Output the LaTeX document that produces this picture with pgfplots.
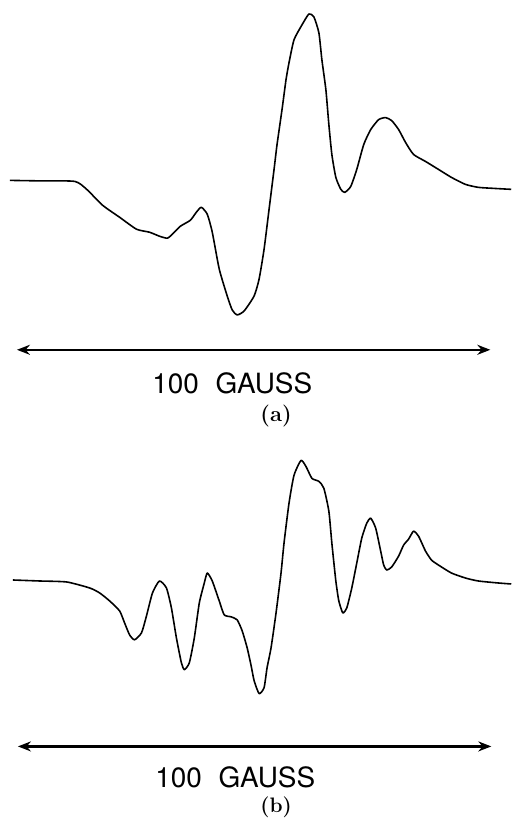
\documentclass[border=0pt]{standalone}
\usepackage{pgfplots}
\pgfplotsset{compat=1.18}
\usepackage{fontspec}
\newfontfamily\heros{TeX Gyre Heros}
\usetikzlibrary{arrows.meta}
\begin{document}
\begin{tikzpicture}
\begin{axis}[scale only axis, width=513pt, height=821pt,
  xmin=0, xmax=513, ymin=0, ymax=821, y dir=reverse,
  axis line style={draw=none}, xtick=\empty, ytick=\empty, clip=false]
% spectrum (a)
\addplot[black, line width=1.6pt, smooth, tension=0.35, line join=round] coordinates {
(10,181) (40,181.5) (75,182) (87,190) (103,206) (120,218) (137,230) (150,233)
(160,237) (168,239) (174,234) (181,227) (191,221) (197,213) (202,208) (208,215)
(213,233) (220,270) (228,297) (233,311) (238,316) (245,312) (255,297) (260,280)
(265,250) (270,210) (275,170) (278,145) (283,110) (287,80) (290,63) (295,40)
(303,25) (310,14) (315,17) (320,33) (323,60) (327,90) (330,125) (333,155)
(337,178) (342,190) (346,193) (352,187) (358,170) (365,145) (372,130) (380,120)
(387,118) (393,121) (400,130) (407,143) (415,155) (427,162) (440,170) (453,178)
(467,185) (480,188) (495,189) (513,190)
};
% spectrum (b)
\addplot[black, line width=1.6pt, smooth, tension=0.35, line join=round] coordinates {
(13,582) (40,583) (67,584) (90,590) (100,595) (110,603) (120,613) (125,625)
(130,637) (135,642) (142,635) (147,618) (153,595) (160,583) (167,590) (172,610)
(177,640) (182,665) (185,672) (190,665) (195,640) (200,605) (205,585) (208,575)
(213,583) (220,603) (225,617) (232,619) (238,622) (243,633) (248,650) (252,668)
(255,683) (260,696) (265,690) (268,670) (272,650) (277,615) (282,575) (285,545)
(290,505) (295,477) (302,462) (307,468) (313,480) (320,483) (325,490) (330,513)
(333,545) (337,583) (340,603) (344,615) (348,610) (353,590) (358,565) (363,540)
(368,525) (372,520) (377,530) (382,553) (385,567) (388,572) (393,569) (400,558)
(405,547) (410,541) (415,533) (420,538) (427,553) (433,562) (440,567) (453,575)
(467,580) (480,583) (500,585) (513,586)
};
\draw[line width=2.2pt, {Stealth[length=13pt,width=10pt]}-{Stealth[length=13pt,width=10pt]}]
  (axis cs:17,351) -- (axis cs:492,351);
\draw[line width=2.2pt, {Stealth[length=13pt,width=10pt]}-{Stealth[length=13pt,width=10pt]}]
  (axis cs:18,749) -- (axis cs:493,749);
\node[anchor=base, font=\heros\fontsize{28}{31}\selectfont] at (axis cs:233,395) {100\hspace{0.6em}GAUSS};
\node[anchor=base, font=\heros\fontsize{28}{31}\selectfont] at (axis cs:236,790) {100\hspace{0.6em}GAUSS};
\node[font=\bfseries\fontsize{22}{25}\selectfont] at (axis cs:277,417) {(a)};
\node[font=\bfseries\fontsize{21}{24}\selectfont] at (axis cs:277,810) {(b)};
\end{axis}
\end{tikzpicture}
\end{document}
